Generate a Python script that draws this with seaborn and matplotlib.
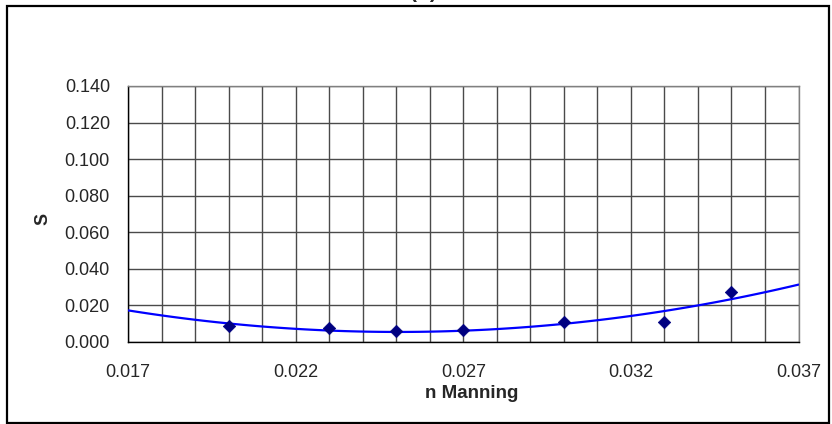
import numpy as np
import pandas as pd
import matplotlib
matplotlib.use("Agg")
import matplotlib.pyplot as plt
from matplotlib.patches import Rectangle
from matplotlib.ticker import MultipleLocator, FormatStrFormatter
import seaborn as sns

# Manning roughness vs. objective S
n_manning = [0.020, 0.023, 0.025, 0.027, 0.030, 0.033, 0.035]
s_values = [0.0089, 0.0075, 0.0062, 0.0067, 0.0109, 0.0109, 0.0273]
x_ticks = [0.017, 0.022, 0.027, 0.032, 0.037]
y_ticks = [0.000, 0.020, 0.040, 0.060, 0.080, 0.100, 0.120, 0.140]

df = pd.DataFrame({"n": n_manning, "S": s_values})

sns.set_style("white")
plt.rcParams["font.family"] = ["Liberation Sans", "DejaVu Sans"]

fig = plt.figure(figsize=(8.32, 4.24), dpi=100)
ax = fig.add_axes([128 / 832, 1 - 342 / 424, (798.5 - 128) / 832, (342 - 86) / 424])

ax.set_xlim(0.017, 0.037)
ax.set_ylim(0.0, 0.14)

# grid: every 0.001 on x, every 0.02 on y
ax.xaxis.set_minor_locator(MultipleLocator(0.001))
ax.set_xticks(x_ticks)
ax.set_yticks(y_ticks)
ax.xaxis.set_major_formatter(FormatStrFormatter("%.3f"))
ax.yaxis.set_major_formatter(FormatStrFormatter("%.3f"))
ax.grid(True, which="both", axis="x", color="#4a4a4a", lw=1.0)
ax.grid(True, which="major", axis="y", color="#4a4a4a", lw=1.0)
ax.set_axisbelow(True)

# quadratic trend line across the full axis range
sns.regplot(data=df, x="n", y="S", order=2, ci=None, truncate=False,
            scatter=False, ax=ax, line_kws=dict(color="#0000ff", lw=1.6, zorder=3))
sns.scatterplot(data=df, x="n", y="S", marker="D", s=40, color="#000080",
                edgecolor="#000080", linewidth=0.5, ax=ax, zorder=4)

ax.set_xlim(0.017, 0.037)
ax.set_ylim(0.0, 0.14)

for side in ["top", "right"]:
    ax.spines[side].set_color("#808080")
    ax.spines[side].set_linewidth(1.0)
for side in ["left", "bottom"]:
    ax.spines[side].set_color("black")
    ax.spines[side].set_linewidth(1.0)

ax.tick_params(axis="x", which="major", direction="out", length=6, width=1,
               color="black", pad=10, labelsize=13)
ax.tick_params(axis="x", which="minor", length=0)
ax.tick_params(axis="y", which="major", direction="out", length=6, width=1,
               color="black", pad=7, labelsize=13)

ax.set_xlabel("n Manning", fontsize=13.5, fontweight="bold")
ax.xaxis.set_label_coords((472 - 128) / 670.5, (342 - 385) / 256)
ax.set_ylabel("S", fontsize=13, fontweight="bold")
ax.yaxis.set_label_coords((51 - 128) / 670.5, 0.48)

# chart title sitting at the top edge
fig.text(423 / 832, 1.0 + 1.5 / 424, "(b)", ha="center", va="baseline",
         fontsize=15, fontweight="bold")

# outer chart frame
fig.patches.append(Rectangle((7 / 832, 1 - 423 / 424), (829 - 7) / 832, (423 - 6) / 424,
                             transform=fig.transFigure, fill=False,
                             edgecolor="black", lw=1.6))

fig.savefig("out.png", dpi=100)
